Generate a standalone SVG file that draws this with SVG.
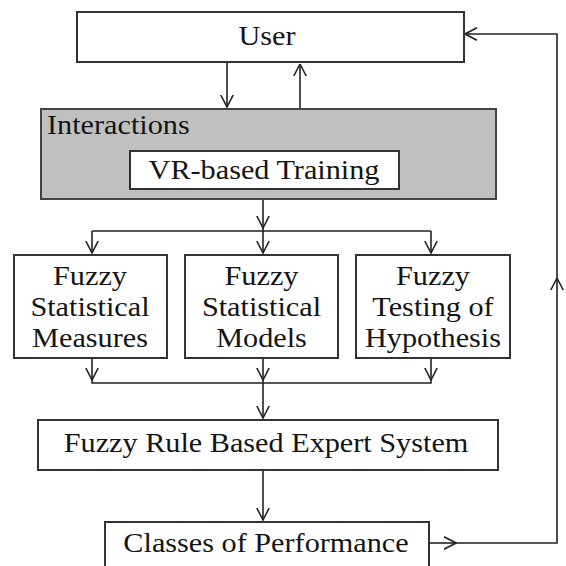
<svg xmlns="http://www.w3.org/2000/svg" width="566" height="566" viewBox="0 0 566 566">
  <defs>
    <marker id="head" viewBox="0 0 13 14" refX="12.5" refY="7" markerWidth="13" markerHeight="14" markerUnits="userSpaceOnUse" orient="auto">
      <path d="M0.5,0.8 L12.5,7 L0.5,13.2" fill="none" stroke="#222" stroke-width="1.6"/>
    </marker>
    <style>
      .box { fill: #ffffff; stroke: #333333; stroke-width: 2; }
      .panel { fill: #c0c0c0; stroke: #444444; stroke-width: 2; }
      .lbl { font-family: "Liberation Serif", "Times New Roman", serif; font-size: 28px; fill: #141414; text-anchor: middle; }
      .lbl-left { text-anchor: start; }
      .wire { fill: none; stroke: #222222; stroke-width: 1.6; }
      .arrow { marker-end: url(#head); }
    </style>
  </defs>

  <rect width="566" height="566" fill="#ffffff"/>

  <!-- connectors -->
  <g id="connectors">
    <!-- User <-> Interactions -->
    <path class="wire arrow" d="M227,62 V107"/>
    <path class="wire arrow" d="M300,109 V64"/>
    <!-- Interactions fan-out -->
    <path class="wire arrow" d="M263,199 V228"/>
    <path class="wire" d="M263,228 V231 M92,231 H431"/>
    <path class="wire arrow" d="M92,231 V253"/>
    <path class="wire arrow" d="M263,231 V253"/>
    <path class="wire arrow" d="M431,231 V253"/>
    <!-- fan-in to expert system -->
    <path class="wire arrow" d="M92,358 V380"/>
    <path class="wire arrow" d="M263,358 V380"/>
    <path class="wire arrow" d="M431,358 V380"/>
    <path class="wire" d="M92,380 V383 H431 V380 M263,380 V383"/>
    <path class="wire arrow" d="M263,383 V418"/>
    <!-- expert system to classes -->
    <path class="wire arrow" d="M263,470 V520"/>
    <!-- feedback loop to User -->
    <path class="wire arrow" d="M430,543 H456"/>
    <path class="wire arrow" d="M456,543 H557 V278"/>
    <path class="wire arrow" d="M557,278 V34 H465"/>
  </g>

  <!-- nodes -->
  <g id="user">
    <rect class="box" x="77" y="12" width="387" height="50"/>
    <text class="lbl" transform="matrix(1.08 0 0 1 267 45)">User</text>
  </g>

  <g id="interactions">
    <rect class="panel" x="41" y="109" width="455" height="90"/>
    <text class="lbl lbl-left" transform="matrix(1.08 0 0 1 47 134)">Interactions</text>
  </g>

  <g id="vr-training">
    <rect class="box" x="130" y="151" width="269" height="38"/>
    <text class="lbl" transform="matrix(1.08 0 0 1 264 179)">VR-based Training</text>
  </g>

  <g id="stat-measures">
    <rect class="box" x="14" y="255" width="153" height="103"/>
    <text class="lbl" transform="matrix(1.08 0 0 1 90 285)">Fuzzy</text>
    <text class="lbl" transform="matrix(1.08 0 0 1 90 316)">Statistical</text>
    <text class="lbl" transform="matrix(1.08 0 0 1 90 347)">Measures</text>
  </g>

  <g id="stat-models">
    <rect class="box" x="185" y="255" width="153" height="103"/>
    <text class="lbl" transform="matrix(1.08 0 0 1 261.5 285)">Fuzzy</text>
    <text class="lbl" transform="matrix(1.08 0 0 1 261.5 316)">Statistical</text>
    <text class="lbl" transform="matrix(1.08 0 0 1 261.5 347)">Models</text>
  </g>

  <g id="hypothesis-testing">
    <rect class="box" x="356" y="255" width="154" height="103"/>
    <text class="lbl" transform="matrix(1.08 0 0 1 433 285)">Fuzzy</text>
    <text class="lbl" transform="matrix(1.08 0 0 1 433 316)">Testing of</text>
    <text class="lbl" transform="matrix(1.08 0 0 1 433 347)">Hypothesis</text>
  </g>

  <g id="expert-system">
    <rect class="box" x="38" y="420" width="460" height="50"/>
    <text class="lbl" transform="matrix(1.08 0 0 1 266 452)">Fuzzy Rule Based Expert System</text>
  </g>

  <g id="performance-classes">
    <rect class="box" x="105" y="522" width="324" height="50"/>
    <text class="lbl" transform="matrix(1.08 0 0 1 266 552)">Classes of Performance</text>
  </g>
</svg>
